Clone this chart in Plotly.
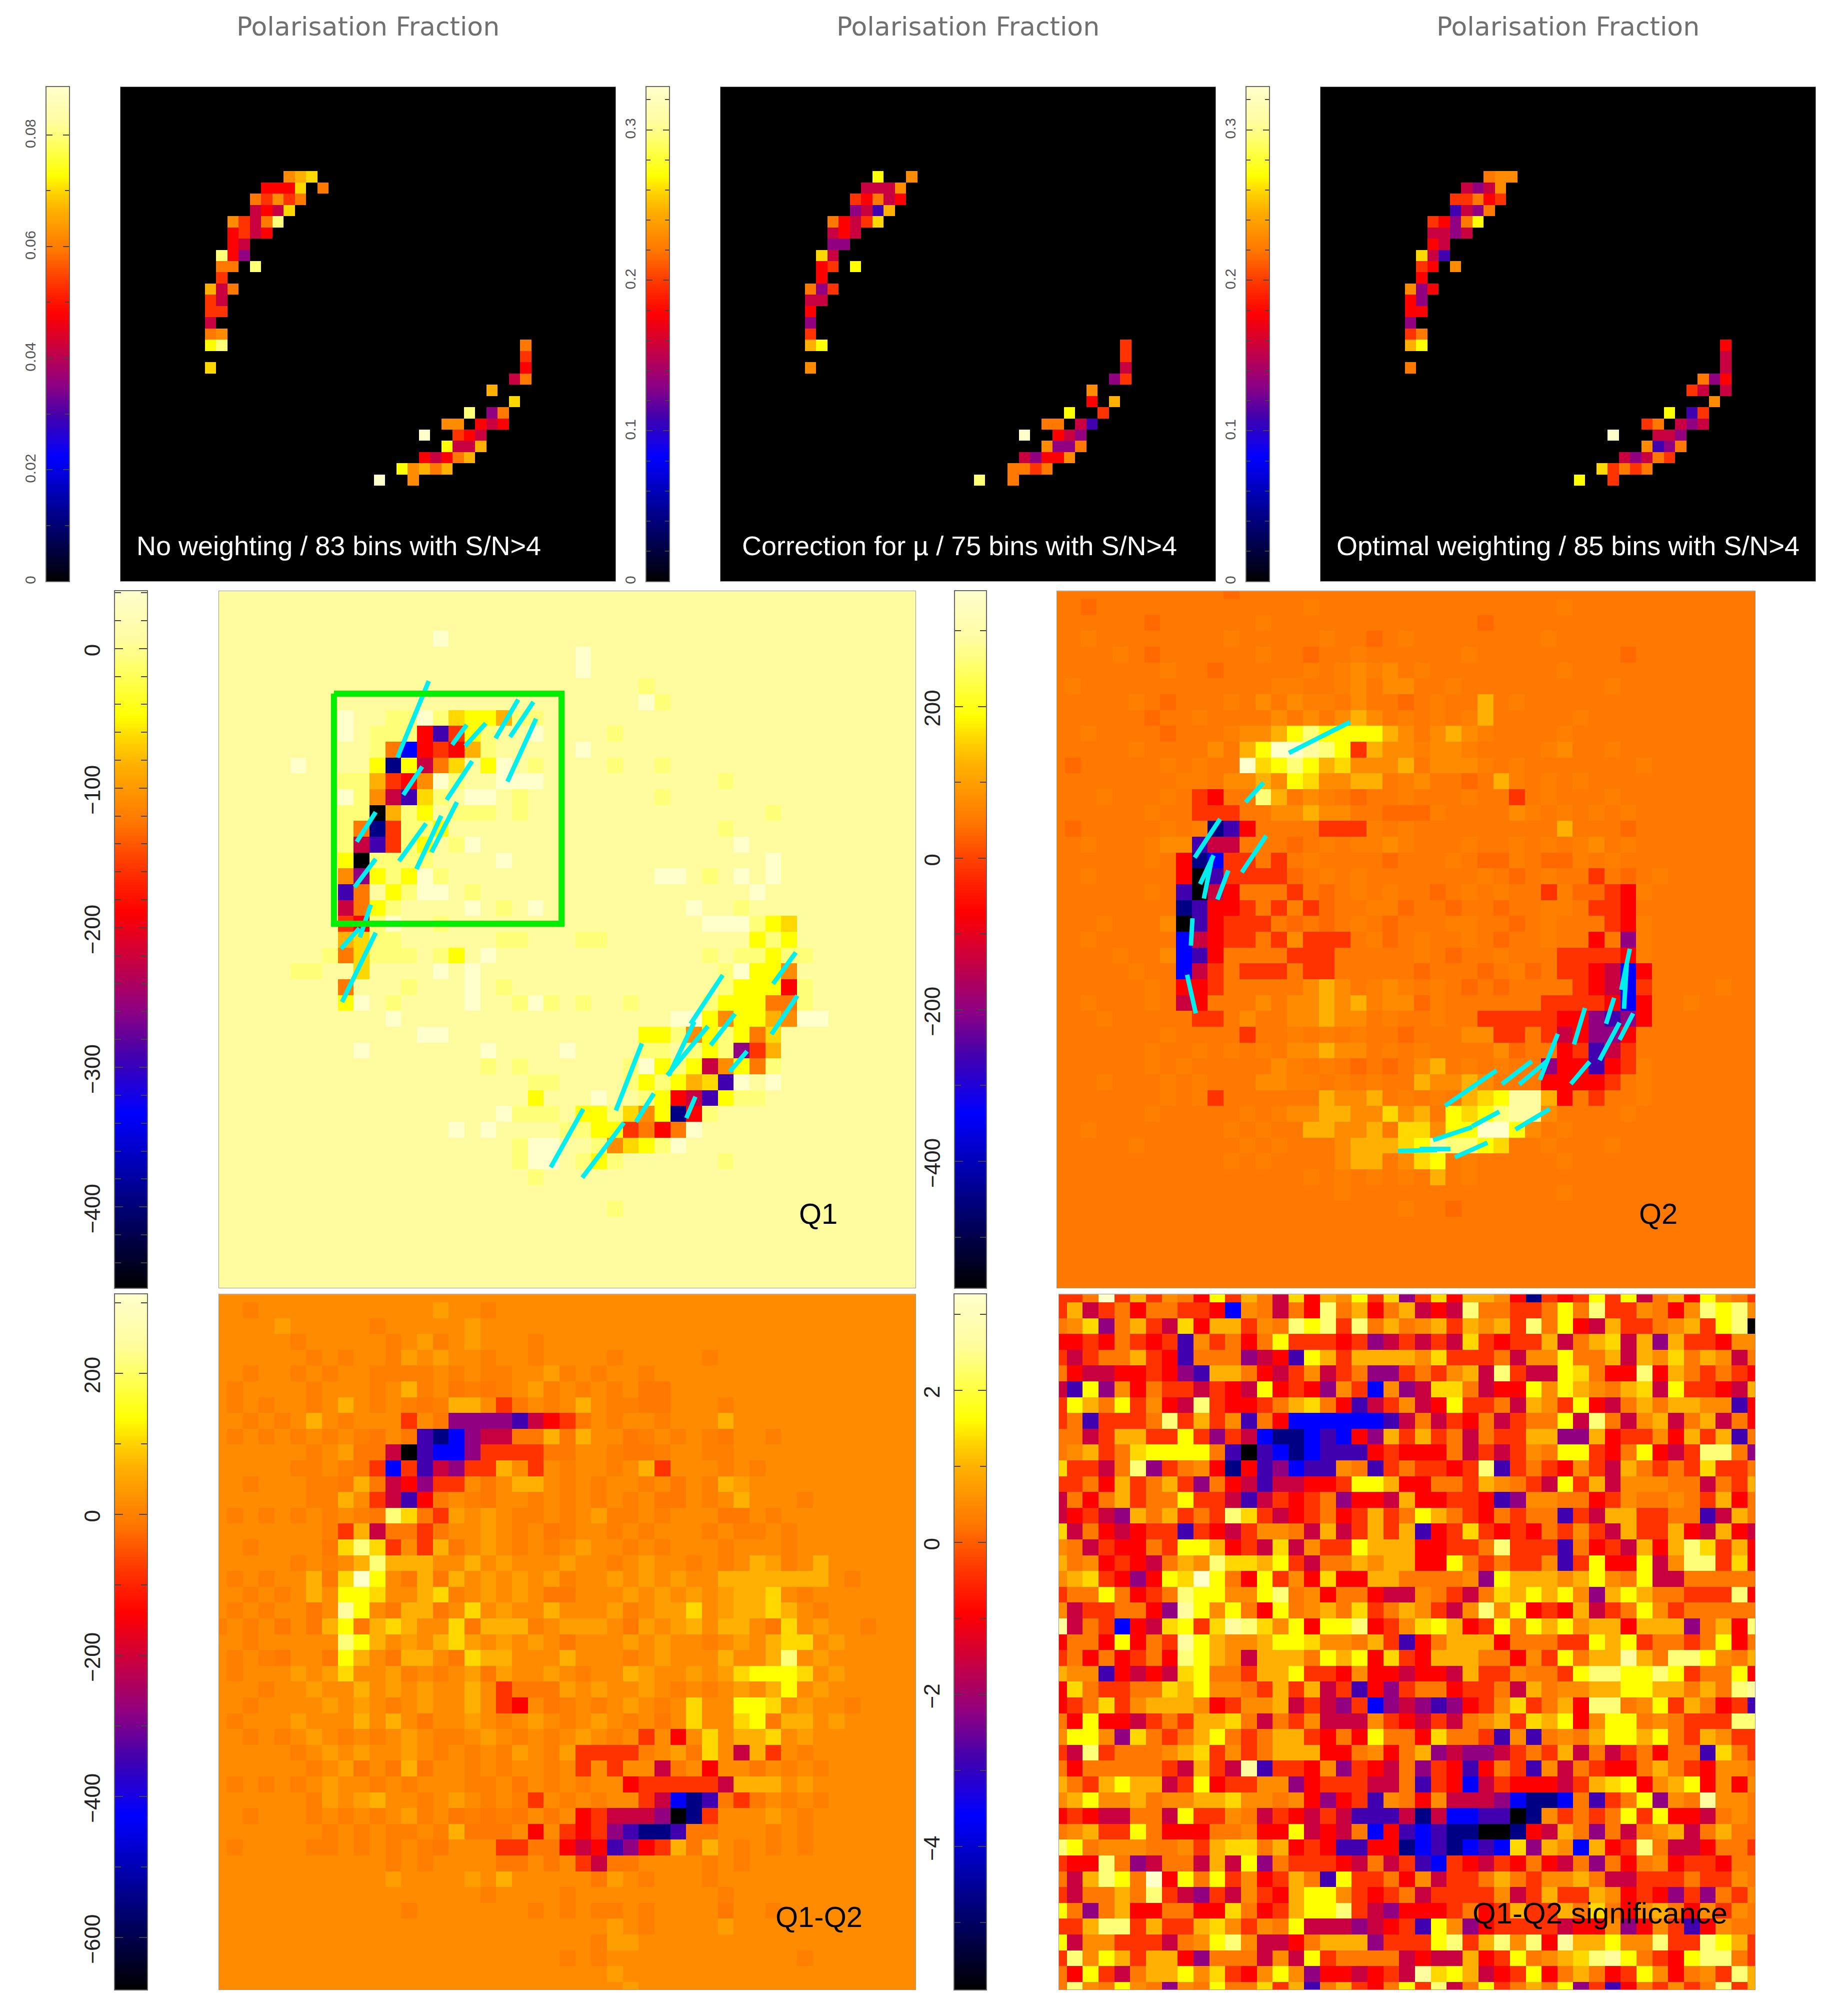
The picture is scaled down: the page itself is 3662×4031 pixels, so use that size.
import numpy as np
import plotly.graph_objects as go

W, H = 3662, 4031
N = 45

# colour levels (digit -> position on the colour bar)
LEVEL_FRAC = dict(zip("0123456789abcdefghi",
    [0, .13, .25, .33, .40, .47, .54, .60, .67, .70, .75, .79, .82, .90, .93, 1.0, .682, .725, .655]))
HEAT = [[0, "#000000"], [.13, "#000085"], [.25, "#0000ff"], [.33, "#4000b0"], [.40, "#900080"],
        [.47, "#c80040"], [.54, "#ff0000"], [.60, "#ff3300"], [.67, "#ff7800"], [.70, "#ff8c00"],
        [.75, "#ffb000"], [.79, "#ffd800"], [.82, "#ffff00"], [.90, "#ffff78"], [.93, "#fffca0"],
        [1.0, "#ffffcc"]]

# top row: (row, first column, levels)
p1_runs = [(8,15,"9ab"),(9,13,"666b08"),(10,12,"87978"),(11,12,"565b"),(12,10,"9758d"),(13,10,"6756"),
    (14,10,"65"),(15,9,"d64"),(16,9,"88"),(16,12,"d"),(17,9,"7"),(18,8,"a58"),(19,8,"75"),(20,8,"77"),
    (21,8,"5"),(22,8,"89"),(23,8,"cd"),(25,8,"b"),(23,36,"8"),(24,36,"7"),(25,36,"6"),(26,35,"58"),
    (27,33,"a"),(28,35,"b"),(29,31,"d"),(29,33,"48"),(30,29,"99"),(30,32,"656"),(31,27,"f"),(31,30,"765"),
    (32,29,"c55a"),(33,27,"6568a"),(34,25,"c9a8a"),(35,23,"f"),(35,26,"9")]
p2_runs = [(8,14,"c"),(8,17,"9"),(9,13,"5559"),(10,12,"76856"),(11,12,"453a"),(12,10,"8657b"),(13,10,"565"),
    (14,10,"44"),(15,9,"b5"),(16,9,"67"),(16,12,"c"),(17,9,"6"),(18,8,"847"),(19,8,"55"),(20,8,"6"),
    (21,8,"4"),(22,8,"7"),(23,8,"ac"),(25,8,"9"),(23,36,"7"),(24,36,"7"),(25,36,"5"),(26,35,"47"),
    (27,33,"9"),(28,33,"6"),(28,35,"a"),(29,31,"c"),(29,34,"7"),(30,29,"88"),(30,32,"53"),(31,27,"f"),
    (31,30,"654"),(32,29,"9448"),(33,27,"54669"),(34,26,"8878"),(35,23,"d"),(35,26,"8")]
p3_runs = [(8,15,"899"),(9,13,"5459"),(10,12,"77867"),(11,12,"3548"),(12,10,"7648c"),(13,10,"5545"),
    (14,10,"65"),(15,9,"b53"),(16,9,"76"),(16,12,"9"),(17,9,"6"),(18,8,"946"),(19,8,"64"),(20,8,"66"),
    (21,8,"4"),(22,8,"78"),(23,8,"ac"),(25,8,"8"),(23,36,"6"),(24,36,"5"),(25,36,"5"),(26,34,"846"),
    (27,33,"75"),(27,36,"5"),(28,35,"9"),(29,31,"c"),(29,33,"37"),(30,29,"78"),(30,32,"545"),(31,26,"f"),
    (31,30,"554"),(32,29,"9348"),(33,27,"54587"),(34,25,"b7878"),(35,23,"c"),(35,26,"7")]

q1_rows = [
"eeeee eeeee eeeee eeeee eeeee eeeee eeeee eeeee eeeee",
"eeeee eeeee eeeee eeeee eeeee eeeee eeeee eeeee eeeee",
"eeeee eeeee eeeee eeeee eeeee eeeee eeeee eeeee eeeee",
"eeeee eeeee eeeef eeeee eeeee eeeee eeeee eeeee eeeee",
"eeeee eeeee eeeee eeeee eeefe eeeee eeeee eeeee eeeee",
"eeeee eeeee eeeee eeeee eeefe eeeee eeeee eeeee eeeee",
"eeeee eeeee eeeee eeeee eeeee eedee eeeee eeeee eeeee",
"eeeee eeeee eeeee eeeee eeeee eefde eeeee eeeee eeeee",
"eeeee eeefe eddfd bccad deeee eeeee eeeee eeeee eeeee",
"eeeee eeefe ddd63 7cdee feeee deeee eeeee eeeee eeeee",
"eeeee eeeee d8267 6adee eeefe eeeee eeeee eeeee eeeee",
"eeeee feeee c1c58 becfe deeee deede eeeee eeeee eeeee",
"eeeee eeedd a769f deeff feeee eeeee eedee eeeee eeeee",
"eeeee eeefd 953bd effed eeeee eeede eeeee eeeee eeeee",
"eeeee eeedd 0adce ddded eeeee eeeee eeeee deeee eeeee",
"eeeee eeed8 17ddc eeeee eeeee eeeee eedee eeeee eeeee",
"eeeee eeed5 37dce dfeee eeeee eeeee eeefe eeeee eeeee",
"eeeee eeec0 dddde eeefe eeeee eeeee eeeee feeee eeeee",
"eeeee eee94 cdcfd eeeee eeeee eeeff edefe feeee eeeee",
"eeeee eee38 ecdff edeee eeeee eeeee eeeef eeeee eeeee",
"eeeee eee58 cdeee efede feeee eeeee feede eeeee eeeee",
"eeeee eee76 dfeed eeeee eeeee eeeee efffd cbeee eeeee",
"eeeee eeeab ddeee eeedd eeedd eeeee eeeec dceee eeeee",
"eeeee eed8b ddded cefee eeeee eeeee ededd cddee eeeee",
"eeeee ddeeb eeeef efeee eeeee eeeee eedfc c9eee eeeee",
"eeeee eee8e eedee efede eeeee eeeee eedcc c6dee eeeee",
"eeeee eeecf edeee efeed fdede edeee edccc 88dee eeeee",
"eeeee eeeee efeee eeeee eeeee eeeef fc9cc a9ffe eeeee",
"eeeee eeeee eeeff eeeee eeeee eeccd 9cdc8 beeee eeeee",
"eeeee eeeef eeeee eefee eefee eedde dcd47 aeeee eeeee",
"eeeee eeeee eeeee eeded eeeee edfcd c59c8 deeee eeeee",
"eeeee eeeee eeeee eeeee ddeee edcdc ab3fe feeee eeeee",
"eeeee eeeee eeeee eeeee ceeef eedc6 53cdd eeeee eeeee",
"eeeee eeeee eeeee eeefd ddecc db9c1 6deee eeeee eeeee",
"eeeee eeeee eeeee fefee eeddc c7868 feeee eeeee eeeee",
"eeeee eeeee eeeee eeeed ffeed 9bcdf eeeee eeeee eeeee",
"eeeee eeeee eeeee eeeed ffedc deeee eedee eeeee eeeee",
"eeeee eeeee eeeee eeeee deeee eeeee eeeee eeeee eeeee",
"eeeee eeeee eeeee eeeee eeeee eeeee eeeee eeeee eeeee",
"eeeee eeeee eeeee eeeee eeeee deeee eeeee eeeee eeeee",
"eeeee eeeee eeeee eeeee eeeee eeeee eeeee eeeee eeeee",
"eeeee eeeee eeeee eeeee eeeee eeeee eeeee eeeee eeeee",
"eeeee eeeee eeeee eeeee eeeee eeeee eeeee eeeee eeeee",
"eeeee eeeee eeeee eeeee eeeee eeeee eeeee eeeee eeeee",
"eeeee eeeee eeeee eeeee eeeee eeeee eeeee eeeee eeeee",
]

q2_rows = [
"88888 88888 8i888 88888 88888 88888 88888 88888 88888",
"88i88 88888 88888 8g888 88888 88888 88g88 88888 88888",
"88888 8i888 888g8 88888 88888 88i88 88888 88888 88888",
"88g88 88888 8g888 88g88 i8g88 88888 8g888 88888 88888",
"8888g 8i888 888g8 8i88g 88888 8g888 88888 8i888 88888",
"88888 88g88 i8888 8g8g9 g98g8 88888 88g88 88888 88888",
"8g888 88888 8888g g88g9 89988 g8888 88888 g8888 88888",
"88888 g8i88 8g898 9gg89 88i8g 88a8g 88888 88888 88888",
"88888 8i88g 88889 8989a 98g8g 8ga88 888g8 88888 88888",
"88g88 88i88 8g99a cdccc ca989 a9g88 88g88 88888 88888",
"88888 g8888 98acf fedc7 a99g9 9g888 8g988 g8888 88888",
"8i888 88g8g 88fbc dcab9 99a89 99g8g 88888 88g88 88888",
"88888 888gg 899a9 cb99a a8g98 8i8ag 8g8g8 88888 88888",
"888g8 88g87 688da 89g8i 88g88 8g887 8g888 g8888 88888",
"88888 8g887 77889 9a998 8iiig 88889 g8g8g 8g888 88888",
"8i888 88g8g 13688 88777 g8g88 88888 88a88 8i888 88888",
"88g88 8g993 55888 i8g8g g9g88 8g88g 8g8g9 8g888 88888",
"88888 8g861 27787 8g888 8i888 g8iig 8iig8 g8888 88888",
"88g88 88860 37777 i8g8g 88888 88g8i 8g887 8i8g8 88888",
"88888 8g830 56888 78i8g 8g88i 8g8g8 87gii 76g88 88888",
"88888 88813 66787 g7i88 ggi88 i88i8 8gg87 76888 88888",
"888g8 88903 67778 i8i8g 8i888 gg88i 8g888 76g88 88888",
"88g88 88825 67787 97778 gi8g8 8g8i8 8g886 84g88 88888",
"8888g 88923 68888 77788 888g8 i88g8 88777 76g88 88888",
"88888 g8825 78777 87788 888i8 88i8g i8776 52688 88888",
"88888 8g866 78888 89a98 g9g8g 8i8i8 88876 52788 88g88",
"88g88 8g856 88898 99a9a g99ig 88888 87777 62688 g8888",
"888g8 88887 78988 99a99 8g88g 88777 77664 34688 88888",
"88888 88g88 88788 g8g8g 88i88 89977 87564 46888 88888",
"88888 8g88g 8g8g8 99a99 8g8g8 8889i 88673 57888 88888",
"88888 8g8g8 88889 g8g8i 8i89a 8g8g8 84663 67g88 88888",
"888g8 88g8g 88899 gg8g8 g88a9 9a988 86666 78g88 88888",
"88888 88g8g 78888 88a99 a8g8g 8abce ea687 88g88 88888",
"88888 8g888 88g8g 99aa9 9b9a8 cbcde e9888 8g888 88888",
"88g88 88888 8g8g8 8aa99 a8bb9 ccffc 98g88 88888 88888",
"88888 g8888 88g8g 8889a aabce ddcb8 8g888 g8888 88888",
"88888 88888 8g8g8 8889a a89bc 8g888 88g88 88888 88888",
"88888 88888 88888 8g8g8 g8g8a 8g888 88888 88888 88888",
"88888 88888 88888 888g8 88888 88888 88g88 88888 88888",
"88888 88888 88888 88888 88g88 i8888 88888 88888 88888",
"88888 88888 88888 88888 88888 88888 88888 88888 88888",
"88888 88888 88888 88888 88888 88888 88888 88888 88888",
"88888 88888 88888 88888 88888 88888 88888 88888 88888",
"88888 88888 88888 88888 88888 88888 88888 88888 88888",
"88888 88888 88888 88888 88888 88888 88888 88888 88888",
]

q12_rows = [
"99999 99999 99999 99999 99999 99999 99999 99999 99999",
"99g99 99999 9999h 99g99 99999 99999 99999 99999 99999",
"9999h 99999 g9999 9h999 99999 99999 99999 99999 99999",
"99999 g9999 9g9hg 9h999 g9999 99999 99999 99999 99999",
"99999 9g9g9 9gh9h 99g99 g9999 g9999 9g999 99999 99999",
"99g99 g9g99 gggg9 g9gg9 9hg9g 99g99 99999 99999 99999",
"9g999 9g999 g9ag9 8g8g9 hg9g9 g9889 99999 99999 99999",
"9g9g9 9g9a9 g9g8g aa978 9g9a9 gg889 99g99 99999 99999",
"99g9g 9a9g9 99798 44443 56789 g99g9 99a99 99999 99999",
"9g9g9 g9g9g 89831 24558 8a8a9 98g9g 9g899 g9999 99999",
"99999 9g9h8 85032 24777 78899 g88g9 9gg99 99999 99999",
"99999 gg9g8 72735 477a9 79g99 g9a79 99g9g 99999 99999",
"99g99 9gg8a 85647 7989a a9g9g 99g98 9gah9 99999 99999",
"99999 9gga9 75368 9g899 g9g9g 9g988 9g9a9 99g99 99999",
"9g9g9 g9g9g 8db87 h9h9g g9g9h gg9g9 99889 g9999 99999",
"99999 99g7a 58878 99h9g 98g99 g9g99 9g9gg 9g999 99999",
"99g99 998bd b797a 89h9g 9g9h9 9g9g9 99g99 9g999 99999",
"99999 g9g9a daaa9 9a9h9 99h99 g9h99 g9g9a hg9a9 99999",
"9g9g9 9a8bf c98a8 a9h9h 9hg99 h9h9h 99aaa aaaa9 g9999",
"99g9g 9a9cc b99ab g9h9h 98899 9h9h9 h9haa b9g99 99999",
"9g9g9 989ec 98aa8 9b9h9 9a999 hg9hh b9haa ba9g9 99999",
"g9g98 98ac8 aba99 b8aaa g9hhh 98h9h a9aa9 8b9h9 9g999",
"99g99 999dc a9h9a bh9h9 h9899 9h9h9 9g9h9 abb9h 99999",
"9g9g8 998ca 98aa9 8baa9 99a99 9g9h9 99a99 ad9h9 99999",
"9g999 h9hb9 9hg9g 9h8h9 9h9g9 9ah99 h9hbc ccb9h 99999",
"999g9 9h99a 9h9h9 9a978 88h9h 99h9g 9g9h9 ac9h9 99999",
"99g99 99h9h 9g9h9 9a976 98g9g 9h9g9 b99cc b9h99 g9999",
"9g999 h999a 9a989 9h9g9 h9g9h 9g989 b99bc 8aa9h 99999",
"99g9g 9h9g9 g9h9g g9h9g 9g9h9 g9796 9b9aa b9h99 99999",
"99999 g9h9h 99h9g 9g9gh 9gh77 77g9h 8b95a 79g99 99999",
"99999 9g9h8 98a89 9g9g9 9g979 79958 96998 9g9g9 99999",
"9g9g9 g9h99 g9g99 9gg98 9g9g9 96777 775aa a9h99 99999",
"99999 9gh9h a99g9 h9g9g 79g9g 99752 13878 9g9g9 99999",
"99g99 9g9g9 g9hg9 8g8g8 98967 55540 17999 h9g99 99999",
"99999 99g9g 9gg9g a8889 69767 43113 88999 g9g99 99999",
"9g999 9gg9g 9g9g8 99977 88656 3467a 8a9g9 g9g99 99999",
"99999 99999 9g9g9 99988 98975 88999 9g9g9 99999 99999",
"99999 99999 9h999 9h9a9 99998 h9g99 9g999 99999 99999",
"99999 99999 99999 99g99 99g99 99999 99g99 99999 99999",
"99999 99999 99g99 99999 g9g9g g9g99 99899 g9999 99999",
"99999 99999 99999 99999 99999 h9g99 99h99 99999 99999",
"99999 99999 99999 99999 9999g hh999 99999 99999 99999",
"99999 99999 99999 99999 99g9g 99999 99999 99g99 99999",
"99999 99999 99999 99999 99999 h9999 99999 99999 99999",
"99999 99999 99999 99999 99999 9h999 99999 99999 99999",
]

sig_rows = [
"778f7 a7986 c7a85 b6a9c 7b47b 6aa96 1767c 7c58a 6c987",
"7a578 68877 62985 86d8a 68a56 5d887 78c8d 77986 9dcd9",
"89b48 a75b6 aa798 dcd7d 8a89a 7a9a7 d8c65 a7789 a7cd0",
"66768 76739 7868c 77767 45757 5b767 7a58a b5a4a 77699",
"75788 a7638 88456 3ca7a aaa9b 77785 99c88 a5a9b 8a958",
"86556 67643 aa865 79578 44787 9a5d7 55cb8 66d6a 87876",
"53c49 68775 765c6 76497 2945b b8566 c9ca9 8ab5c 7765a",
"7ca8c 7965d 76678 ab863 57956 c7785 a97c6 58a8a a9936",
"78377 78d7a 79386 22222 23585 76857 88c5d 859a5 8a586",
"8857a a77c7 47521 12326 4a7a7 85877 aa44a 67796 a7a38",
"89a78 bcccc 83032 12333 67666 85757 98cc7 68c65 7dd84",
"b7758 d4789 61634 23398 37877 67d37 87697 5a878 7b778",
"7786a 78a74 86535 5667c ca668 87a98 75c7a 59998 8587a",
"5868a 788c7 75357 67846 65a66 77634 99886 79889 87a68",
"56754 a8a78 7db75 67867 a78ca 87687 88375 aa778 835a8",
"b5865 67737 65799 85a57 a7a36 7b767 68797 5a77a 65a65",
"98576 687cc a675b 5977c aaa66 778d7 77386 75a6a db7a6",
"a8967 658a9 dbbac 7588a 9aa66 c8787 7937c 66c59 dd7b6",
"9ab76 46cbf c86c7 96b66 aa888 894ca aa9ac 98c55 88888",
"788c8 678dc c99cd 89688 65598 758ba cac94 aca88 777d6",
"95778 864ec 9c86c 89a8b 78a97 59d9c 676a5 78c97 88888",
"e5872 65bc7 bedb9 c6ccd 679bc a67c8 cac9a a6aaa 48a6d",
"6886c 687ec a99ac cb998 a7368 aaa68 8877c ac788 78c68",
"78686 786dc a95aa a8cac 6b76a aa886 97c8a aea8d dc98a",
"a9936 565bc 887aa c7769 66566 5a779 887cd dccdc 788c6",
"6b877 88bac 9987a 7a573 64788 67785 a899a accaa 8a8de",
"678b7 9aaa9 6799a 57547 24543 4679b 78a6d d89c7 a8673",
"86c66 5787a ab858 79555 97657 589a7 bac69 cc898 777dd",
"9cc94 b878a c878a a7686 c886b 88739 3898a ccac8 7a977",
"75d78 889ab 7978a aa668 968a4 54457 87a58 57868 83b87",
"86888 8875a 75e37 76947 65847 63687 39587 668a8 76998",
"a87ac aa57c 67799 46777 55837 62576 6657a bc69a c6969",
"9ac99 a899a ab998 96467 39869 55542 11283 78c49 8e998",
"67655 885c7 79857 65753 33515 22330 19787 8c7c6 65898",
"89a77 c8666 88966 c5658 26323 11001 65a84 8589a 58a88",
"dc899 98897 abb8a 67633 66123 1232b 4a92a 67d85 56887",
"766d8 45885 a5c48 77765 85732 76576 86584 86896 77688",
"85adc 8f6c8 c7967 a83c7 78695 778a8 799a8 55777 87798",
"7588a 8d754 75976 acc97 67857 77795 7a77a 96764 74879",
"c848a 66886 6b867 accd7 54666 7867a 77a8b 869a8 69798",
"77add 7a77a b9798 c5554 5673c 94677 77566 94697 36988",
"c5997 77589 cd955 68aaa 4777c d7ad9 d6eaa c99d7 7dca7",
"7d9ca 7aa64 88859 5c788 88565 5a67c 89abd ec876 cdd87",
"86c75 8aac9 b769c 94665 675eb ca567 c68a8 67c96 897da",
"8d98c 98498 c88b7 a38a7 68c7d 58c78 a8c47 36879 78d7a",
]

# vectors, in map cells
q1_vx0 = [13.25,15.65,16.85,18.90,19.86,20.03,15.99,12.84,9.90,15.03,14.04,13.08,9.90,9.59,8.87,9.90,36.44,36.54,31.82,32.60,30.89,33.36,26.71,27.47,30.10,23.01,25.58,30.03]
q1_vy0 = [5.67,8.43,8.34,6.84,6.99,8.05,10.73,11.07,13.95,13.32,14.18,14.67,16.91,19.79,21.28,21.57,22.81,25.54,24.24,26.69,27.47,29.05,28.56,31.72,31.92,32.70,33.56,27.18]
q1_vx1 = [11.27,14.73,15.55,17.47,18.39,18.22,14.38,11.64,8.70,13.42,12.47,11.37,8.56,8.90,7.71,7.77,35.00,34.90,29.79,31.06,28.32,32.26,25.07,26.34,29.52,20.96,22.95,28.42]
q1_vy1 = [10.50,9.69,9.78,9.29,9.20,12.02,13.17,12.86,15.82,16.48,17.54,17.05,18.69,21.86,22.58,25.94,24.79,27.98,27.32,28.67,30.57,30.34,32.79,33.51,33.28,36.38,37.04,30.57]
q2_vx0 = [18.48,13.02,10.28,13.19,9.87,9.77,10.80,8.54,8.20,36.11,35.91,35.12,33.28,36.32,35.46,31.57,33.58,29.93,30.95,27.71,31.06,27.88,26.17,27.13,24.80,23.95]
q2_vy0 = [8.25,12.08,14.38,15.44,16.68,16.82,17.63,20.65,24.22,22.58,23.58,25.68,26.32,26.66,27.24,27.95,29.71,29.68,29.62,30.26,32.70,32.87,33.85,34.83,35.23,35.29]
q2_vx1 = [14.62,11.89,8.68,11.65,9.02,9.26,10.11,8.44,8.75,35.57,35.74,34.61,32.59,35.46,34.20,30.44,32.39,28.05,29.14,24.46,28.90,26.17,23.71,25.08,22.86,21.49]
q2_vy1 = [10.21,13.32,16.82,17.75,18.49,19.41,19.47,22.38,26.66,25.17,26.37,27.32,28.62,28.33,29.62,30.86,31.12,31.12,31.15,32.50,33.99,33.79,34.66,35.75,35.23,35.35]
box_x = [7.26, 21.64, 21.64, 7.26, 7.26]
box_y = [6.47, 6.47, 21.0, 21.0, 6.47]

# colour scale ranges and ticks
ranges = dict(p1=(0, .0886), p2=(0, .3285), p3=(0, .3285), q1=(-458, 41), q2=(-567, 352),
              q12=(-674, 312), sig=(-5.88, 3.26))
ticks = dict(p1=(.02, .01), p2=(.1, .02), p3=(.1, .02), q1=(100, 20), q2=(200, 100),
             q12=(200, 100), sig=(2, 1))
titles = ["Polarisation Fraction"] * 3
top_notes = ["No weighting / 83 bins with S/N>4", "Correction for µ / 75 bins with S/N>4",
             "Optimal weighting / 85 bins with S/N>4"]

# layout: (map left, right, top, bottom), (bar left, right)
geo = dict(
    p1=((241, 1231, 174, 1164), (93, 138)),
    p2=((1441, 2431, 174, 1164), (1293, 1338)),
    p3=((2641, 3631, 174, 1164), (2493, 2538)),
    q1=((438, 1831, 1184, 2579), (230, 294)),
    q2=((2114, 3510, 1184, 2579), (1910, 1972)),
    q12=((438, 1831, 2592, 3984), (230, 294)),
    sig=((2118, 3510, 2592, 3984), (1909, 1972)),
)


def runs_to_fracs(runs):
    a = np.zeros((N, N))
    for r, c, s in runs:
        for i, ch in enumerate(s):
            a[r, c + i] = LEVEL_FRAC[ch]
    return a


def rows_to_fracs(rows, bg):
    a = np.zeros((N, N))
    for r, s in enumerate(rows):
        s = (s.replace(" ", "") + bg * N)[:N]
        a[r] = [LEVEL_FRAC[ch] for ch in s]
    return a


fracs = dict(p1=runs_to_fracs(p1_runs), p2=runs_to_fracs(p2_runs), p3=runs_to_fracs(p3_runs),
             q1=rows_to_fracs(q1_rows, "e"), q2=rows_to_fracs(q2_rows, "8"),
             q12=rows_to_fracs(q12_rows, "9"), sig=rows_to_fracs(sig_rows, "7"))

fig = go.Figure()
layout = dict(width=W, height=H, margin=dict(l=0, r=0, t=0, b=0), paper_bgcolor="white",
              plot_bgcolor="white", showlegend=False, annotations=[])


def dx(a, b):
    return [a / W, b / W]


def dy(t, b):
    return [1 - b / H, 1 - t / H]


idx = 0
for key, ((l, r, t, b), (bl, br)) in geo.items():
    vmin, vmax = ranges[key]
    top = key.startswith("p")
    # map
    idx += 1
    xn, yn = f"x{idx}", f"y{idx}"
    fig.add_trace(go.Heatmap(z=vmin + fracs[key] * (vmax - vmin), x=np.arange(N), y=np.arange(N),
                             zmin=vmin, zmax=vmax, colorscale=HEAT, showscale=False, zsmooth=False,
                             xaxis=xn, yaxis=yn, hoverinfo="skip"))
    frame = dict(showline=True, linewidth=1, linecolor="#999999", mirror=True, showgrid=False,
                 zeroline=False, ticks="", showticklabels=False)
    layout[f"xaxis{idx}"] = dict(domain=dx(l, r), range=[0, 44], anchor=yn, **frame)
    layout[f"yaxis{idx}"] = dict(domain=dy(t, b), range=[44, 0], anchor=xn, **frame)
    if key == "q1":
        for x0, y0, x1, y1 in zip(q1_vx0, q1_vy0, q1_vx1, q1_vy1):
            fig.add_trace(go.Scatter(x=[x0, x1], y=[y0, y1], mode="lines", xaxis=xn, yaxis=yn,
                                     line=dict(color="#00eeee", width=9), hoverinfo="skip"))
        fig.add_trace(go.Scatter(x=box_x, y=box_y, mode="lines", xaxis=xn, yaxis=yn,
                                 line=dict(color="#00f000", width=12), hoverinfo="skip"))
    if key == "q2":
        for x0, y0, x1, y1 in zip(q2_vx0, q2_vy0, q2_vx1, q2_vy1):
            fig.add_trace(go.Scatter(x=[x0, x1], y=[y0, y1], mode="lines", xaxis=xn, yaxis=yn,
                                     line=dict(color="#00eeee", width=9), hoverinfo="skip"))
    # colour bar
    idx += 1
    xb, yb = f"x{idx}", f"y{idx}"
    levels = np.linspace(vmin, vmax, 256)
    fig.add_trace(go.Heatmap(z=levels.reshape(-1, 1), x=[0], y=levels, zmin=vmin, zmax=vmax,
                             colorscale=HEAT, showscale=False, xaxis=xb, yaxis=yb, hoverinfo="skip"))
    major, minor = ticks[key]
    layout[f"xaxis{idx}"] = dict(domain=dx(bl, br), range=[-.5, .5], anchor=yb, showticklabels=False,
                                 ticks="", showgrid=False, zeroline=False, showline=True, linewidth=2,
                                 linecolor="#666666", mirror=True)
    layout[f"yaxis{idx}"] = dict(
        domain=dy(t, b), range=[vmin, vmax], anchor=xb, tick0=0, dtick=major, tickangle=-90,
        ticks="inside", ticklen=12 if top else 16, tickwidth=2, tickcolor="#444444", mirror="ticks",
        showline=True, linewidth=2, linecolor="#666666", showgrid=False, zeroline=False,
        ticklabelstandoff=8 if top else 10, ticklabelshift=2 if top else 10,
        tickfont=dict(family="Liberation Sans", size=30 if top else 44, color="#555555" if top else "#222222"),
        minor=dict(tick0=0, dtick=minor, ticks="inside", ticklen=8 if top else 12, tickwidth=2,
                   tickcolor="#444444", showgrid=False))


def note(text, xc, yc, size, color, family="Liberation Sans"):
    layout["annotations"].append(dict(text=text, x=xc / W, y=1 - yc / H, xref="paper", yref="paper",
                                      xanchor="center", yanchor="middle", showarrow=False,
                                      font=dict(family=family, size=size, color=color)))


for text, xc in zip(titles, [736, 1936, 3136]):
    note(text, xc, 53, 52, "#707070", "DejaVu Sans")
for text, xc in zip(top_notes, [677, 1919, 3136]):
    note(text, xc, 1093, 54, "white")
note("Q1", 1636, 2430, 58, "black")
note("Q2", 3316, 2430, 58, "black")
note("Q1-Q2", 1638, 3838, 58, "black")
note("Q1-Q2 significance", 3200, 3831, 60, "black")

fig.update_layout(**layout)
fig.write_html("out.html", config={"displayModeBar": False},
               post_script="document.body.style.margin='0';")
